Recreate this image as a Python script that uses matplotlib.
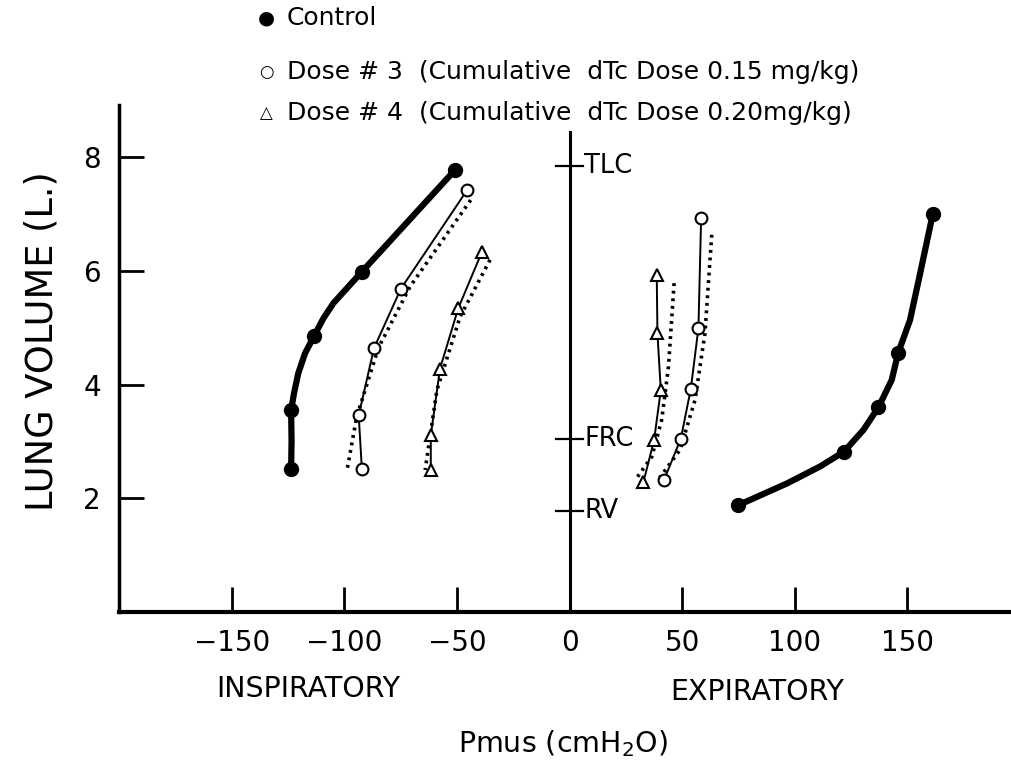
import matplotlib
matplotlib.use("Agg")
import matplotlib.pyplot as plt

# values (Pmus in cmH2O, lung volume in L)
ctrl_insp_x = [-50.8, -92.2, -113.3, -123.6, -123.6]
ctrl_insp_y = [7.77, 5.98, 4.86, 3.55, 2.51]
# points (markers included)
ctrl_insp_line_x = [-50.8, -92.2, -104.8, -109.3, -113.3, -117.4, -120.4, -122.3, -123.6, -123.4, -123.6]
ctrl_insp_line_y = [7.77, 5.98, 5.43, 5.16, 4.86, 4.55, 4.20, 3.85, 3.55, 3.00, 2.51]

dose3_insp_x = [-45.4, -74.9, -86.8, -93.6, -92.2]
dose3_insp_y = [7.42, 5.68, 4.64, 3.46, 2.52]
dose3_insp_dot_x = [-43.9, -70.8, -84.9, -94.5, -98.9]
dose3_insp_dot_y = [7.24, 5.72, 4.64, 3.43, 2.47]

dose4_insp_x = [-39.0, -49.4, -57.5, -61.6, -61.6]
dose4_insp_y = [6.32, 5.34, 4.28, 3.11, 2.49]
dose4_insp_dot_x = [-35.3, -48.6, -58.9, -64.1]
dose4_insp_dot_y = [6.19, 5.19, 3.90, 2.50]

ctrl_exp_x = [161.2, 145.9, 137.1, 121.8, 74.9]
ctrl_exp_y = [6.99, 4.56, 3.60, 2.82, 1.88]
ctrl_exp_line_x = [161.2, 155.6, 151.1, 145.9, 143.0, 137.1, 130.4, 121.8, 111.2, 96.4, 74.9]
ctrl_exp_line_y = [6.99, 5.95, 5.13, 4.56, 4.08, 3.60, 3.20, 2.82, 2.56, 2.26, 1.88]

dose3_exp_x = [58.4, 57.2, 53.8, 49.4, 41.9]
dose3_exp_y = [6.93, 4.99, 3.92, 3.05, 2.32]
dose3_exp_dot_x = [63.1, 60.1, 55.7, 49.0, 38.7]
dose3_exp_dot_y = [6.63, 4.90, 3.73, 2.85, 2.29]

dose4_exp_x = [38.7, 39.0, 40.5, 37.5, 32.8]
dose4_exp_y = [5.92, 4.90, 3.90, 3.02, 2.29]
dose4_exp_dot_x = [46.4, 43.9, 40.9, 36.5, 29.1]
dose4_exp_dot_y = [5.78, 4.31, 3.38, 2.73, 2.32]

ref_labels = ["TLC", "FRC", "RV"]
ref_volumes = [7.84, 3.05, 1.78]

x_ticks = [-150, -100, -50, 0, 50, 100, 150]
x_tick_labels = ["\u2212150", "\u2212100", "\u221250", "0", "50", "100", "150"]
y_ticks = [2, 4, 6, 8]

legend_rows = [
    ("\u25CF", "Control"),
    ("\u25CB", "Dose # 3  (Cumulative  dTc Dose 0.15 mg/kg)"),
    ("\u25B3", "Dose # 4  (Cumulative  dTc Dose 0.20mg/kg)"),
]

plt.rcParams["font.family"] = ["DejaVu Sans"]
W, H = 1011, 765
fig = plt.figure(figsize=(W / 100, H / 100), dpi=100)
ax = fig.add_axes([119 / W, (H - 612.2) / H, (1010 - 119) / W, (612.2 - 105) / H])
ax.set_xlim(-200, 195.5)
ax.set_ylim(0, 8.91)

dot = (0, (0.8, 1.3))
ink = "black"

# inspiratory side
ax.plot(ctrl_insp_line_x, ctrl_insp_line_y, color=ink, lw=4.5, solid_capstyle="round", solid_joinstyle="round")
ax.plot(ctrl_insp_x, ctrl_insp_y, "o", color=ink, ms=10)
ax.plot(dose3_insp_dot_x, dose3_insp_dot_y, color=ink, lw=2.6, ls=dot)
ax.plot(dose3_insp_x, dose3_insp_y, color=ink, lw=1.4)
ax.plot(dose3_insp_x, dose3_insp_y, "o", mfc="white", mec=ink, mew=1.5, ms=8.5)
ax.plot(dose4_insp_dot_x, dose4_insp_dot_y, color=ink, lw=2.6, ls=dot)
ax.plot(dose4_insp_x, dose4_insp_y, color=ink, lw=1.4)
ax.plot(dose4_insp_x, dose4_insp_y, "^", mfc="white", mec=ink, mew=1.5, ms=8.5)

# expiratory side
ax.plot(ctrl_exp_line_x, ctrl_exp_line_y, color=ink, lw=4.5, solid_capstyle="round", solid_joinstyle="round")
ax.plot(ctrl_exp_x, ctrl_exp_y, "o", color=ink, ms=10)
ax.plot(dose3_exp_dot_x, dose3_exp_dot_y, color=ink, lw=2.6, ls=dot)
ax.plot(dose3_exp_x, dose3_exp_y, color=ink, lw=1.4)
ax.plot(dose3_exp_x, dose3_exp_y, "o", mfc="white", mec=ink, mew=1.5, ms=8.5)
ax.plot(dose4_exp_dot_x, dose4_exp_dot_y, color=ink, lw=2.6, ls=dot)
ax.plot(dose4_exp_x, dose4_exp_y, color=ink, lw=1.4)
ax.plot(dose4_exp_x, dose4_exp_y, "^", mfc="white", mec=ink, mew=1.5, ms=8.5)

# central zero axis with reference volumes
ax.plot([0, 0], [0, 8.44], color=ink, lw=2.2)
for lab, vol in zip(ref_labels, ref_volumes):
    ax.plot([-6, 6], [vol, vol], color=ink, lw=1.6)
    ax.text(6.5, vol, lab, fontsize=18.5, va="center", ha="left")

for side in ["top", "right"]:
    ax.spines[side].set_visible(False)
ax.spines["left"].set_linewidth(2.5)
ax.spines["bottom"].set_linewidth(3)
ax.set_xticks(x_ticks)
ax.set_xticklabels(x_tick_labels)
ax.set_yticks(y_ticks)
ax.tick_params(axis="both", direction="in", length=18, width=2, labelsize=20)
ax.tick_params(axis="x", pad=12)
ax.tick_params(axis="y", pad=13)

fig.text(308 / W, 1 - 689 / H, "INSPIRATORY", fontsize=20.5, ha="center", va="center")
fig.text(757 / W, 1 - 692 / H, "EXPIRATORY", fontsize=20.5, ha="center", va="center")
fig.text(563 / W, 1 - 752 / H, "Pmus (cmH$_2$O)", fontsize=20.5, ha="center", va="baseline")
fig.text(42 / W, 1 - 341 / H, "LUNG VOLUME (L.)", fontsize=26.5, rotation=90, ha="center", va="center")

for i, (sym, lab) in enumerate(legend_rows):
    y = 1 - [18, 72, 113][i] / H
    fig.text(266 / W, y, sym, fontsize=14 if i == 0 else 12, ha="center", va="center")
    fig.text(287 / W, y, lab, fontsize=18, ha="left", va="center")

fig.savefig("out.png", dpi=100)
